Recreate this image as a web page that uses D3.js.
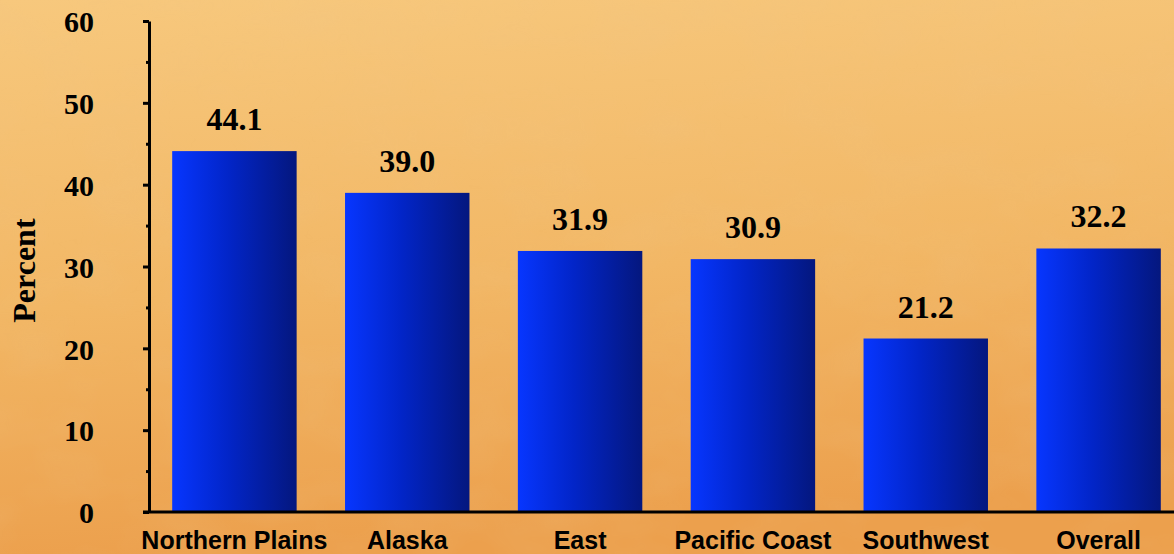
<!DOCTYPE html>
<html>
<head>
<meta charset="utf-8">
<script src="https://cdn.jsdelivr.net/npm/d3@7"></script>
<style>
  html, body { margin: 0; padding: 0; overflow: hidden; }
</style>
</head>
<body>
<div id="chart"></div>
<script>
const regions = ['Northern Plains', 'Alaska', 'East', 'Pacific Coast', 'Southwest', 'Overall']
const percents = [44.1, 39.0, 31.9, 30.9, 21.2, 32.2]
const yTicks = [0, 10, 20, 30, 40, 50, 60]
const yMinorTicks = [5, 15, 25, 35, 45, 55]

const width = 1174
const height = 554
const serif = '"Liberation Serif", "Times New Roman", serif'
const sans = '"Liberation Sans", Arial, sans-serif'

const svg = d3.select('#chart')
  .append('svg')
  .attr('width', width)
  .attr('height', height)

const defs = svg.append('defs')

const bg = defs.append('linearGradient')
  .attr('id', 'bg')
  .attr('x1', 0).attr('y1', 0).attr('x2', 0.15).attr('y2', 1)
bg.append('stop').attr('offset', '0%').attr('stop-color', '#f7c87d')
bg.append('stop').attr('offset', '55%').attr('stop-color', '#f2b765')
bg.append('stop').attr('offset', '100%').attr('stop-color', '#eca04d')

const barGrad = defs.append('linearGradient')
  .attr('id', 'bar')
  .attr('x1', 0).attr('y1', 0).attr('x2', 1).attr('y2', 0)
barGrad.append('stop').attr('offset', '0%').attr('stop-color', '#0736ff')
barGrad.append('stop').attr('offset', '45%').attr('stop-color', '#0225c8')
barGrad.append('stop').attr('offset', '100%').attr('stop-color', '#04177e')

// mottled paper texture
const tex = defs.append('filter').attr('id', 'tex')
  .attr('x', 0).attr('y', 0).attr('width', '100%').attr('height', '100%')
tex.append('feTurbulence')
  .attr('type', 'fractalNoise')
  .attr('baseFrequency', '0.012 0.02')
  .attr('numOctaves', 3)
  .attr('seed', 7)
tex.append('feColorMatrix')
  .attr('type', 'matrix')
  .attr('values', '0 0 0 0 0.85  0 0 0 0 0.55  0 0 0 0 0.25  0 0 0 -0.9 0.55')

svg.append('rect')
  .attr('width', width)
  .attr('height', height)
  .attr('fill', 'url(#bg)')

svg.append('rect')
  .attr('width', width)
  .attr('height', height)
  .attr('filter', 'url(#tex)')
  .attr('opacity', 0.35)

const xScale = d3.scaleBand()
  .domain(regions)
  .range([148, 1185])
  .paddingInner(0.28)
  .paddingOuter(0.14)

const yScale = d3.scaleLinear()
  .domain([0, 60])
  .range([512, 21])

// bars
svg.append('g')
  .selectAll('rect')
  .data(percents)
  .join('rect')
  .attr('x', (d, i) => xScale(regions[i]))
  .attr('y', (d) => yScale(d))
  .attr('width', xScale.bandwidth())
  .attr('height', (d) => yScale(0) - yScale(d))
  .attr('fill', 'url(#bar)')

// value labels
svg.append('g')
  .selectAll('text')
  .data(percents)
  .join('text')
  .attr('x', (d, i) => xScale(regions[i]) + xScale.bandwidth() / 2)
  .attr('y', (d) => yScale(d) - 21)
  .attr('text-anchor', 'middle')
  .style('font-family', serif)
  .style('font-weight', 'bold')
  .style('font-size', '32px')
  .style('fill', '#000')
  .text((d) => d.toFixed(1))

// y axis
const yAxis = d3.axisLeft(yScale)
  .tickValues(yTicks)
  .tickSize(6)
  .tickSizeOuter(0)
  .tickPadding(49)
  .tickFormat(d3.format('d'))

const yg = svg.append('g')
  .attr('transform', 'translate(149, 0)')
  .call(yAxis)
yg.select('.domain').attr('stroke', '#000').attr('stroke-width', 3)
yg.selectAll('.tick line').attr('stroke', '#000').attr('stroke-width', 3)
yg.selectAll('.tick text')
  .attr('dy', '0.36em')
  .style('font-family', serif)
  .style('font-weight', 'bold')
  .style('font-size', '30px')
  .style('fill', '#000')

const yMinor = d3.axisLeft(yScale)
  .tickValues(yMinorTicks)
  .tickSize(3)
  .tickFormat('')
const ymg = svg.append('g')
  .attr('transform', 'translate(149, 0)')
  .call(yMinor)
ymg.select('.domain').remove()
ymg.selectAll('.tick line').attr('stroke', '#000').attr('stroke-width', 3)

// x axis
const xAxis = d3.axisBottom(xScale)
  .tickSize(0)
  .tickSizeOuter(0)
  .tickPadding(19)

const xg = svg.append('g')
  .attr('transform', `translate(0, ${yScale(0)})`)
  .call(xAxis)
xg.select('.domain').remove()
xg.selectAll('.tick text')
  .attr('dy', '0.71em')
  .style('font-family', sans)
  .style('font-weight', 'bold')
  .style('font-size', '25px')
  .style('fill', '#000')

svg.append('line')
  .attr('x1', 143)
  .attr('x2', width)
  .attr('y1', yScale(0))
  .attr('y2', yScale(0))
  .attr('stroke', '#000')
  .attr('stroke-width', 3)

// y title
svg.append('text')
  .attr('transform', `translate(35, ${yScale(29.5)}) rotate(-90)`)
  .attr('text-anchor', 'middle')
  .style('font-family', serif)
  .style('font-weight', 'bold')
  .style('font-size', '32px')
  .style('fill', '#000')
  .text('Percent')
</script>
</body>
</html>
